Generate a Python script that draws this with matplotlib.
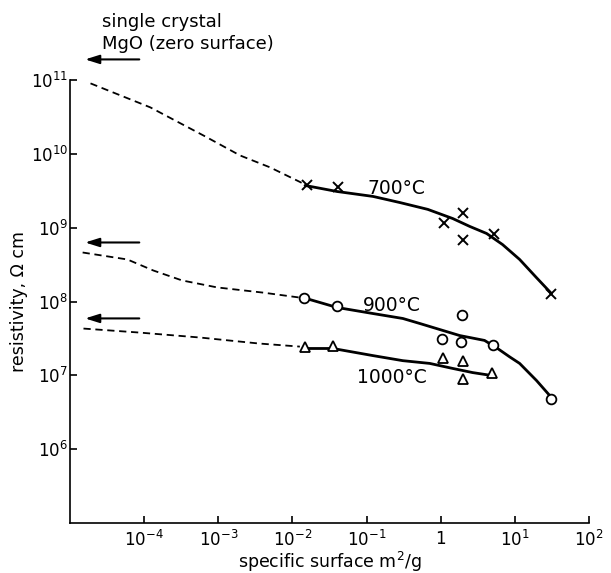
import matplotlib
matplotlib.use("Agg")
import matplotlib.pyplot as plt
from matplotlib.ticker import FixedLocator, FixedFormatter, NullLocator

# ---------------- data ----------------
# 700 °C
x700_pts = [0.0157, 0.041, 1.10, 1.98, 1.98, 5.17, 31.2]
y700_pts = [3.73e9, 3.5e9, 1.14e9, 1.56e9, 6.9e8, 8.3e8, 1.28e8]
x700_fit = [0.0148, 0.040, 0.122, 0.281, 0.668, 1.45, 2.46, 4.16, 6.83, 11.6, 19.6, 31.2]
y700_fit = [3.73e9, 3.09e9, 2.65e9, 2.19e9, 1.77e9, 1.33e9, 1.04e9, 8.34e8, 5.9e8,
            3.71e8, 2.1e8, 1.28e8]
x700_ext = [1.89e-5, 1.21e-4, 6.67e-4, 1.97e-3, 5.0e-3, 1.48e-2]
y700_ext = [9.0e10, 4.26e10, 1.72e10, 9.5e9, 6.55e9, 3.85e9]

# 900 °C
x900_pts = [0.0143, 0.040, 1.92, 1.03, 1.86, 5.0, 31.2]
y900_pts = [1.13e8, 8.6e7, 6.5e7, 3.06e7, 2.87e7, 2.6e7, 4.85e6]
x900_fit = [0.0139, 0.040, 0.122, 0.308, 0.521, 1.80, 3.9, 5.85, 8.5, 11.6, 19.6, 31.2]
y900_fit = [1.13e8, 8.3e7, 6.87e7, 5.89e7, 5.04e7, 3.46e7, 2.97e7, 2.31e7, 1.78e7,
            1.45e7, 8.5e6, 5.0e6]
x900_ext = [1.48e-5, 5.94e-5, 1.33e-4, 3.24e-4, 9.7e-4, 4.0e-3, 1.26e-2]
y900_ext = [4.61e8, 3.71e8, 2.63e8, 1.93e8, 1.55e8, 1.32e8, 1.13e8]

# 1000 °C
x1000_pts = [0.0148, 0.035, 1.06, 1.98, 1.98, 4.86]
y1000_pts = [2.4e7, 2.5e7, 1.7e7, 1.54e7, 8.8e6, 1.09e7]
x1000_fit = [0.0139, 0.0352, 0.122, 0.308, 0.711, 1.45, 2.69, 4.7]
y1000_fit = [2.31e7, 2.31e7, 1.85e7, 1.58e7, 1.45e7, 1.24e7, 1.09e7, 1.0e7]
x1000_ext = [1.52e-5, 8.5e-5, 5.7e-4, 3.5e-3, 1.26e-2]
y1000_ext = [4.3e7, 3.8e7, 3.25e7, 2.7e7, 2.45e7]

# single-crystal (zero surface) arrows: y levels
arrow_levels = [1.9e11, 6.3e8, 5.9e7]
arrow_x_tip = 1.6e-5
arrow_x_tail = 8.6e-5

series_labels = ["700°C", "900°C", "1000°C"]
label_pos = [(0.104, 2.82e9), (0.089, 7.55e7), (0.074, 7.98e6)]

xticks = [1e-4, 1e-3, 1e-2, 1e-1, 1, 1e1, 1e2]
xticklabels = [r"$10^{-4}$", r"$10^{-3}$", r"$10^{-2}$", r"$10^{-1}$", "1",
               r"$10^{1}$", r"$10^{2}$"]
yticks = [1e6, 1e7, 1e8, 1e9, 1e10, 1e11]
yticklabels = [r"$10^{6}$", r"$10^{7}$", r"$10^{8}$", r"$10^{9}$",
               r"$10^{10}$", r"$10^{11}$"]

# ---------------- figure ----------------
plt.rcParams['font.family'] = ['DejaVu Sans']
plt.rcParams['mathtext.fontset'] = 'dejavusans'

fig = plt.figure(figsize=(6.11, 5.73), dpi=100)
ax = fig.add_axes([0.11457, 0.08726, 0.84943, 0.77312])
ax.set_xscale('log')
ax.set_yscale('log')
ax.set_xlim(1e-5, 1e2)
ax.set_ylim(1e5, 1e11)

for s in ['top', 'right']:
    ax.spines[s].set_visible(False)
for s in ['left', 'bottom']:
    ax.spines[s].set_linewidth(1.2)

dash = dict(color='black', lw=1.3, dashes=(4.0, 2.6))
solid = dict(color='black', lw=2.0, solid_joinstyle='round', solid_capstyle='round')

ax.plot(x700_ext, y700_ext, **dash)
ax.plot(x900_ext, y900_ext, **dash)
ax.plot(x1000_ext, y1000_ext, **dash)
ax.plot(x700_fit, y700_fit, **solid)
ax.plot(x900_fit, y900_fit, **solid)
ax.plot(x1000_fit, y1000_fit, **solid)

ax.plot(x700_pts, y700_pts, ls='none', marker='x', ms=7.5, mew=1.4,
        color='black', zorder=5)
ax.plot(x900_pts, y900_pts, ls='none', marker='o', ms=7, mew=1.3,
        mfc='white', mec='black', zorder=5)
ax.plot(x1000_pts, y1000_pts, ls='none', marker='^', ms=7.5, mew=1.3,
        mfc='white', mec='black', zorder=5)

for lab, (lx, ly) in zip(series_labels, label_pos):
    ax.text(lx, ly, lab, fontsize=13.5, ha='left', va='baseline')

for yl in arrow_levels:
    ax.annotate("", xy=(arrow_x_tip, yl), xytext=(arrow_x_tail, yl),
                arrowprops=dict(arrowstyle='-|>,head_length=0.7,head_width=0.22',
                                lw=1.5, color='black', mutation_scale=12,
                                shrinkA=0, shrinkB=0),
                annotation_clip=False)

fig.text(102/611, 1 - 27/573, "single crystal", fontsize=13, ha='left', va='baseline')
fig.text(102/611, 1 - 49/573, "MgO (zero surface)", fontsize=13, ha='left', va='baseline')

ax.xaxis.set_major_locator(FixedLocator(xticks))
ax.xaxis.set_major_formatter(FixedFormatter(xticklabels))
ax.yaxis.set_major_locator(FixedLocator(yticks))
ax.yaxis.set_major_formatter(FixedFormatter(yticklabels))
ax.xaxis.set_minor_locator(NullLocator())
ax.yaxis.set_minor_locator(NullLocator())
ax.tick_params(axis='both', which='major', direction='in', length=5, width=1.2,
               labelsize=12)
ax.tick_params(axis='y', pad=1.5)
ax.tick_params(axis='x', pad=5)

ax.set_xlabel("specific surface m$^{2}$/g", fontsize=12.5, labelpad=0)
ax.set_ylabel("resistivity, Ω cm", fontsize=12.5, labelpad=2)

fig.savefig("out.png", dpi=100)
